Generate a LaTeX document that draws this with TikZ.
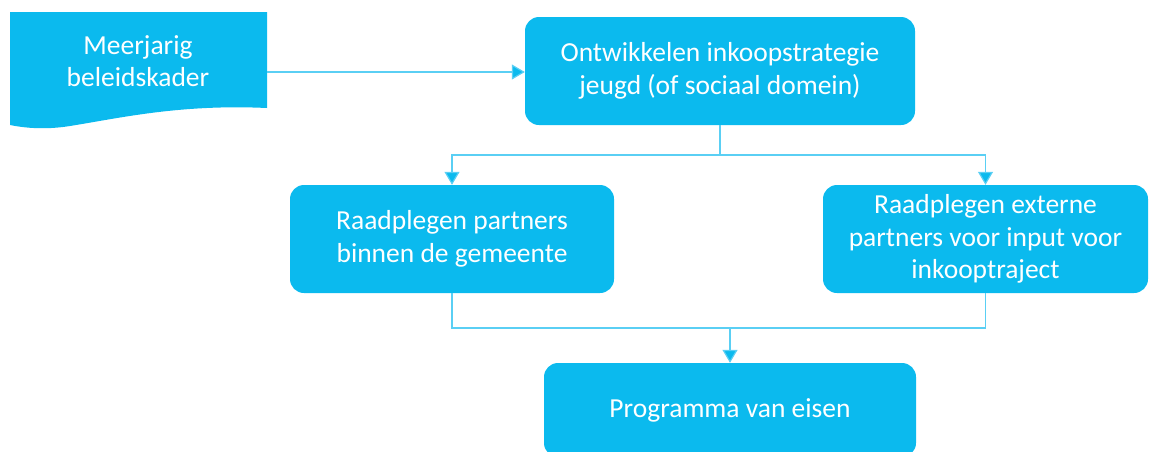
\documentclass[tikz,border=0pt]{standalone}
\usepackage{fontspec}
\setmainfont{Carlito}
\usetikzlibrary{arrows.meta}

\definecolor{boxblue}{HTML}{0BBAEE}
\definecolor{lineblue}{HTML}{5ACFF4}

\tikzset{
	stapbox/.style = {fill = boxblue, rounded corners = 14pt, text = white, align = center, font = \fontsize{27.5}{32.5}\selectfont, inner sep = 0pt},
	pijl/.style = {draw = lineblue, line width = 1.2pt, -{Triangle[length = 13pt, width = 15pt, fill = boxblue]}},
	lijn/.style = {draw = lineblue, line width = 1.2pt}
}

\begin{document}
\begin{tikzpicture}[x = 1pt, y = -1pt]
	\useasboundingbox (0, 0) rectangle (1151, 451);
	
	% document shape
	\fill[boxblue] (10, 12) -- (267, 12) -- (267, 108) .. controls (180, 104) and (120, 118) .. (70, 126) .. controls (45, 130) and (25, 128) .. (10, 125) -- cycle;
	\node[text = white, align = center, font = \fontsize{27.5}{32.5}\selectfont] (kader) at (138, 61) {Meerjarig\\beleidskader};
	\coordinate (kaderuit) at (267, 72);
	
	\node[stapbox, minimum width = 390pt, minimum height = 108pt] (strategie) at (720, 71) {Ontwikkelen inkoopstrategie\\jeugd (of sociaal domein)};
	\node[stapbox, minimum width = 324pt, minimum height = 108pt] (intern) at (452, 239) {Raadplegen partners\\binnen de gemeente};
	\node[stapbox, minimum width = 325pt, minimum height = 108pt] (extern) at (985.5, 239) {Raadplegen externe\\partners voor input voor\\inkooptraject};
	\node[stapbox, minimum width = 372pt, minimum height = 94pt] (eisen) at (730, 410) {Programma van eisen};
	
	\draw[pijl] (kaderuit) -- (strategie.west |- kaderuit);
	
	\coordinate (splits) at (720, 155);
	\draw[lijn] (strategie.south) -- (splits);
	\draw[pijl] (splits) -| (intern.north);
	\draw[pijl] (splits) -| (extern.north);
	
	\coordinate (samen) at (730, 328);
	\draw[lijn] (intern.south) |- (samen);
	\draw[lijn] (extern.south) |- (samen);
	\draw[pijl] (samen) -- (eisen.north);
\end{tikzpicture}
\end{document}
